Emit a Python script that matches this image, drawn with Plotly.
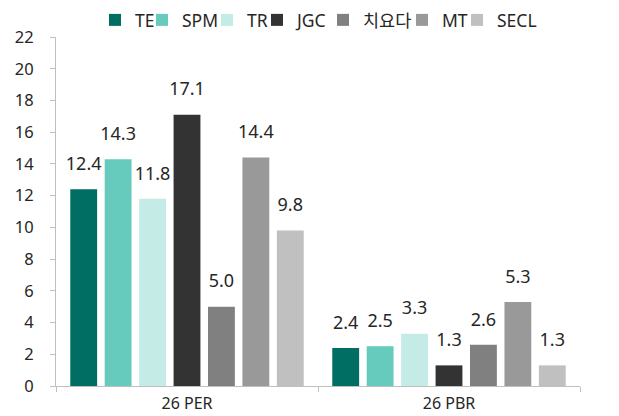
import plotly.graph_objects as go

categories = ["26 PER", "26 PBR"]
series_names = ["TE", "SPM", "TR", "JGC", "치요다", "MT", "SECL"]
values = {
    "TE": [12.4, 2.4],
    "SPM": [14.3, 2.5],
    "TR": [11.8, 3.3],
    "JGC": [17.1, 1.3],
    "치요다": [5.0, 2.6],
    "MT": [14.4, 5.3],
    "SECL": [9.8, 1.3],
}
colors = ["#006e62", "#66cbbd", "#c4ebe5", "#333333", "#808080", "#999999", "#c0c0c0"]
y_ticks = list(range(0, 23, 2))

FONT = "Noto Sans, Noto Sans CJK KR, sans-serif"
TXT = "#262626"

W, H = 611, 408
ML, MR, MT_, MB = 48, 39, 29, 30
PW, PH = W - ML - MR, H - MT_ - MB
# x pixel (figure) where each legend entry's text begins
legend_text_px = [127, 174, 239, 289, 355, 434, 489]
LEG_TEXT_OFFSET = 40

fig = go.Figure()
legend_layout = {}
for i, (name, col) in enumerate(zip(series_names, colors)):
    key = "legend" if i == 0 else f"legend{i + 1}"
    fig.add_trace(go.Bar(
        name=name, x=categories, y=values[name], marker_color=col,
        marker_line_width=0, legend=key,
    ))
    legend_layout[key] = dict(
        orientation="h", xref="paper", yref="paper",
        x=(legend_text_px[i] - LEG_TEXT_OFFSET - ML) / PW, xanchor="left",
        y=1 + (MT_ - 12) / PH, yanchor="middle",
        font=dict(size=17.5, family=FONT, color=TXT), itemwidth=30,
        bgcolor="rgba(0,0,0,0)", borderwidth=0,
    )
for name in series_names:
    fig.add_trace(go.Scatter(
        x=categories, y=values[name], mode="markers+text",
        text=[f"{v:.1f}" for v in values[name]], textposition="top center",
        textfont=dict(size=18, color=TXT, family=FONT),
        marker=dict(size=22, color="rgba(0,0,0,0)"),
        showlegend=False, hoverinfo="skip", cliponaxis=False,
    ))

fig.update_layout(
    width=W, height=H,
    margin=dict(l=ML, r=MR, t=MT_, b=MB, autoexpand=False),
    barmode="group", bargap=0.08, bargroupgap=0.22,
    scattermode="group", scattergap=0.08,
    plot_bgcolor="white", paper_bgcolor="white",
    font=dict(family=FONT, size=16, color=TXT),
    showlegend=True,
    **legend_layout,
)
fig.update_xaxes(
    showline=True, linecolor="#bfbfbf", linewidth=1,
    ticks="outside", tickson="boundaries", ticklen=5, tickcolor="#bfbfbf",
    showgrid=False, tickfont=dict(size=16), ticklabelstandoff=3,
)
fig.update_yaxes(
    range=[0, 22], tickvals=y_ticks, showline=True, linecolor="#bfbfbf", linewidth=1,
    ticks="outside", ticklen=5, tickcolor="#bfbfbf", showgrid=False, zeroline=False,
    tickfont=dict(size=16.5), ticklabelstandoff=13,
)
fig.write_html("out.html")
